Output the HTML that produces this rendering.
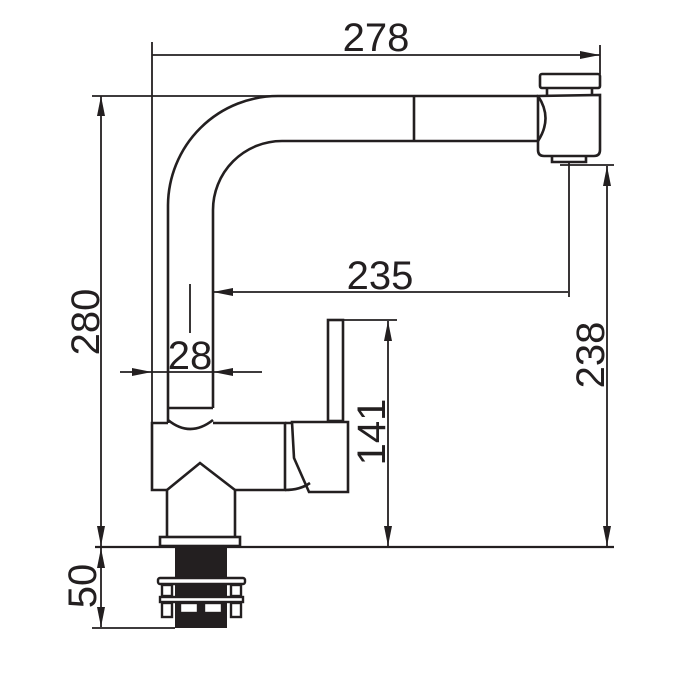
<!DOCTYPE html>
<html><head><meta charset="utf-8"><style>html,body{margin:0;padding:0;background:#fff}svg{display:block}</style></head>
<body>
<svg width="700" height="700" viewBox="0 0 700 700" xmlns="http://www.w3.org/2000/svg">
<defs>
<marker id="a" viewBox="0 0 20 8" refX="20" refY="4" markerWidth="20" markerHeight="8" markerUnits="userSpaceOnUse" orient="auto-start-reverse"><path d="M0,0 L20,4 L0,8 Z" fill="#231f20"/></marker>
</defs>
<g fill="none" stroke="#231f20" stroke-width="2.6">
<!-- spout -->
<path d="M168,423 L168,205 A110,110 0 0 1 278,96 L538,96"/>
<path d="M213,408 L213,210 A69,69 0 0 1 282,141 L538,141"/>
<line x1="414" y1="96" x2="414" y2="141"/>
<path d="M538,96 Q553,118 538,141" />
<!-- head -->
<path d="M538,96 L538,150 Q538,156 544,156 L594,156 Q600,156 600,150 L600,95 Z"/>
<rect x="540" y="74" width="60" height="14" rx="2"/>
<line x1="547" y1="88" x2="547" y2="95"/><line x1="592" y1="88" x2="592" y2="95"/>
<path d="M552,156 L552,162 L586,162 L586,156"/>
<!-- tube bottom cap -->
<line x1="168" y1="408" x2="213" y2="408"/>
<path d="M168,420 Q190,438 213,420"/>
<!-- body -->
<path d="M213,423 L285,423 L285,490 L235,490 M167,490 L152,490 L152,423 L168,423"/>
<path d="M167,537 L167,490 L200,463 L235,490 L235,537"/>
<path d="M285,423 L293,423 M285,490 Q300,490 310,483"/>
<!-- handle -->
<path d="M292,422 L348,422 L348,492 L309,492 L294,458 Z"/>
<rect x="328" y="320" width="15" height="101"/>
<!-- base plate -->
<rect x="160" y="537" width="80" height="9"/>
</g>
<!-- thread and nut -->
<rect x="175" y="546" width="52" height="82" fill="#231f20"/>
<g fill="#fff" stroke="#231f20" stroke-width="2.4">
<rect x="158" y="578" width="87" height="6" rx="2"/>
<rect x="160" y="597" width="83" height="5"/>
<rect x="162" y="585" width="10" height="11"/><rect x="231" y="585" width="10" height="11"/>
<rect x="162" y="603" width="10" height="14"/><rect x="231" y="603" width="10" height="14"/>
<rect x="180" y="603" width="18" height="10"/><rect x="204" y="603" width="18" height="10"/>
</g>
<!-- dimensions -->
<g stroke="#231f20" stroke-width="1.8" fill="none">
<line x1="95" y1="547" x2="614" y2="547" stroke-width="2.2"/>
<line x1="152" y1="42" x2="152" y2="423"/>
<line x1="600" y1="45" x2="600" y2="74"/>
<line x1="152" y1="55" x2="600" y2="55" marker-end="url(#a)"/>
<line x1="92" y1="96" x2="278" y2="96"/>
<line x1="101" y1="96" x2="101" y2="546" marker-start="url(#a)" marker-end="url(#a)"/>
<line x1="92" y1="628" x2="175" y2="628"/>
<line x1="101" y1="548" x2="101" y2="627" marker-start="url(#a)" marker-end="url(#a)"/>
<line x1="190" y1="284" x2="190" y2="333"/>
<line x1="568" y1="292" x2="213" y2="292" marker-end="url(#a)"/>
<line x1="569" y1="162" x2="569" y2="297"/>
<line x1="120" y1="372" x2="152" y2="372" marker-end="url(#a)"/>
<line x1="262" y1="372" x2="213" y2="372" marker-end="url(#a)"/>
<line x1="152" y1="372" x2="213" y2="372"/>
<line x1="343" y1="320" x2="397" y2="320"/>
<line x1="388" y1="321" x2="388" y2="546" marker-start="url(#a)" marker-end="url(#a)"/>
<line x1="560" y1="165" x2="614" y2="165"/>
<line x1="607" y1="166" x2="607" y2="546" marker-start="url(#a)" marker-end="url(#a)"/>
</g>
<g font-family="Liberation Sans, sans-serif" font-size="40" fill="#231f20" text-anchor="middle">
<text x="376" y="51">278</text>
<text x="380" y="289">235</text>
<text x="190" y="369">28</text>
<text transform="translate(99,322) rotate(-90)">280</text>
<text transform="translate(604,355) rotate(-90)">238</text>
<text transform="translate(385,432) rotate(-90)">141</text>
<text transform="translate(96,586) rotate(-90)">50</text>
</g>
</svg>
</body></html>
